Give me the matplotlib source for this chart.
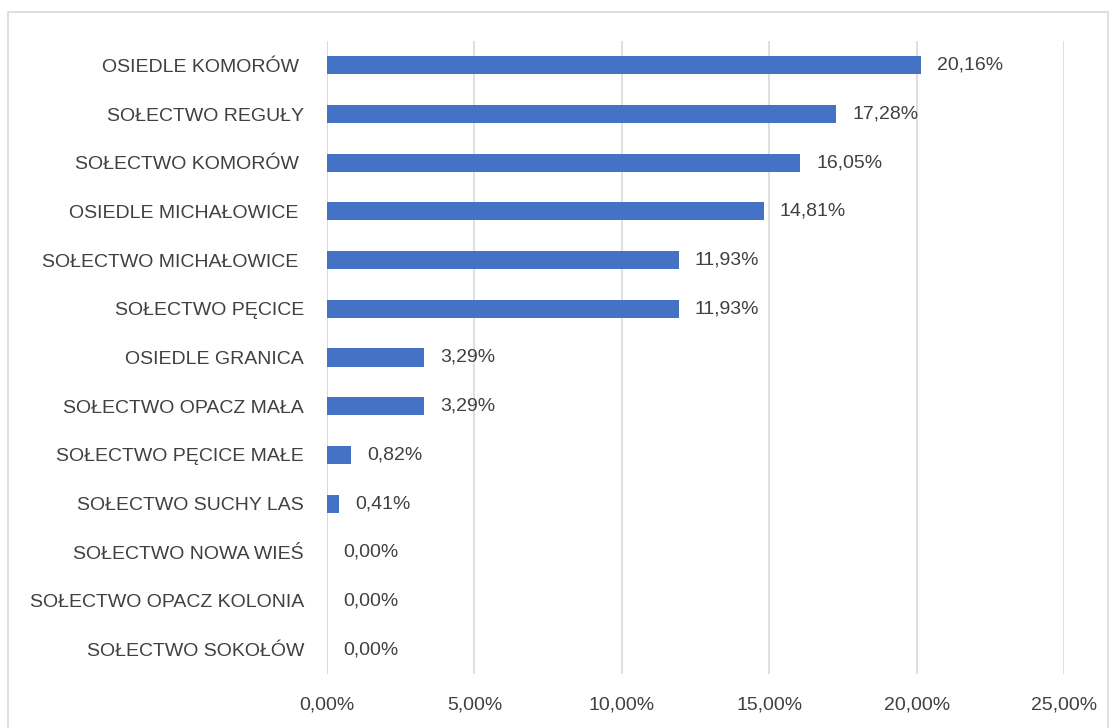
import matplotlib
matplotlib.use("Agg")
import matplotlib.pyplot as plt
from matplotlib import font_manager as fm
from matplotlib.patches import Rectangle

categories = ["OSIEDLE KOMORÓW ", "SOŁECTWO REGUŁY", "SOŁECTWO KOMORÓW ", "OSIEDLE MICHAŁOWICE ",
              "SOŁECTWO MICHAŁOWICE ", "SOŁECTWO PĘCICE", "OSIEDLE GRANICA", "SOŁECTWO OPACZ MAŁA",
              "SOŁECTWO PĘCICE MAŁE", "SOŁECTWO SUCHY LAS", "SOŁECTWO NOWA WIEŚ",
              "SOŁECTWO OPACZ KOLONIA", "SOŁECTWO SOKOŁÓW"]
values = [20.16, 17.28, 16.05, 14.81, 11.93, 11.93, 3.29, 3.29, 0.82, 0.41, 0.00, 0.00, 0.00]
xticks = [0, 5, 10, 15, 20, 25]

names = {f.name for f in fm.fontManager.ttflist}
fam = "Liberation Sans Narrow" if "Liberation Sans Narrow" in names else "Liberation Sans"
plt.rcParams['font.family'] = [fam, 'DejaVu Sans']

fig = plt.figure(figsize=(11.11, 7.28), dpi=100)
fig.patches.append(Rectangle((8/1111, -0.01), (1108-8)/1111, 1 - 12/728 + 0.01,
                             transform=fig.transFigure, fill=False, edgecolor="#D9D9D9", lw=1.2))
ax = fig.add_axes([327/1111, 1 - 674/728, (1064-327)/1111, (674-41)/728])

ypos = list(range(len(categories)))
ax.barh(ypos, values, height=0.37, color="#4472C4", zorder=3)
ax.set_ylim(len(categories) - 0.5, -0.5)
ax.set_xlim(0, 25)
ax.set_xticks(xticks)
ax.set_xticklabels([f"{t:.2f}%".replace(".", ",") for t in xticks])
ax.set_yticks(ypos)
ax.set_yticklabels(categories)
ax.grid(axis="x", color="#D9D9D9", lw=1.2, zorder=0)
for s in ax.spines.values():
    s.set_visible(False)
ax.axvline(0, color="#D9D9D9", lw=1.2, zorder=1)
ax.tick_params(axis="both", length=0, labelsize=14, colors="#404040")
ax.tick_params(axis="y", pad=16.5)
ax.tick_params(axis="x", pad=16)

for y, v in zip(ypos, values):
    ax.annotate(f"{v:.2f}%".replace(".", ","), (v, y), xytext=(11.5, 0), textcoords="offset points",
                va="center", ha="left", fontsize=14, color="#404040")

fig.savefig("out.png", dpi=100)
